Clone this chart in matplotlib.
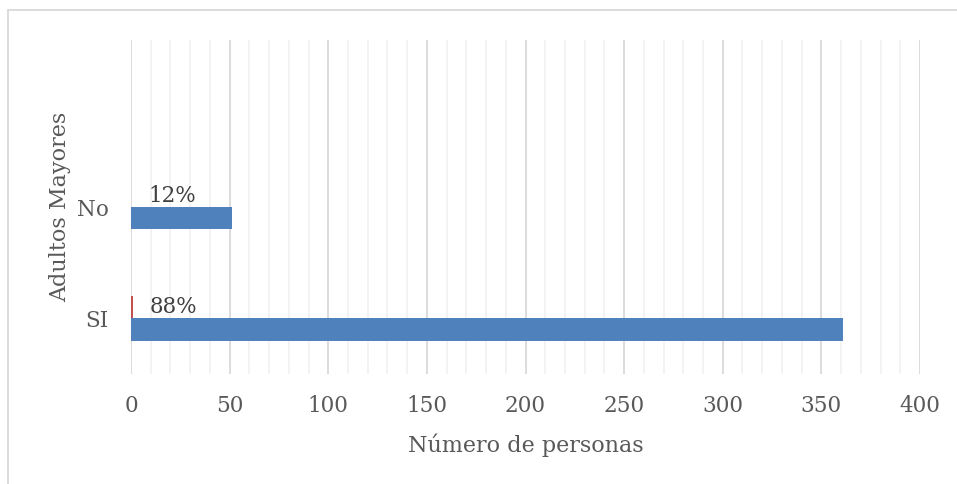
import matplotlib
matplotlib.use("Agg")
import matplotlib.pyplot as plt
from matplotlib.lines import Line2D
from matplotlib.ticker import MultipleLocator

# datos
categorias = ["SI", "No", ""]
personas = [361, 51, 0]
porcentajes = [0.88, 0.12, 0]
etiquetas = ["88%", "12%", ""]

azul = "#4F81BD"
rojo = "#C0504D"
gris = "#595959"

plt.rcParams["font.family"] = ["DejaVu Serif"]

fig = plt.figure(figsize=(9.57, 4.84), dpi=100)
ax = fig.add_axes([131 / 957, 1 - 374 / 484, (920 - 131) / 957, (374 - 40) / 484])

pos = range(len(categorias))
alto = 0.2
# serie de porcentajes (casi invisible) y serie de personas
ax.barh([p + alto / 2 for p in pos], porcentajes, height=alto, color=rojo, zorder=3)
ax.barh([p - alto / 2 for p in pos], personas, height=alto, color=azul, zorder=3)

for p, v, t in zip(pos, porcentajes, etiquetas):
    if t:
        ax.annotate(t, (v, p + alto / 2), xytext=(12.5, 0), textcoords="offset points",
                    va="center", ha="left", fontsize=15.5, color="#404040")

ax.set_xlim(0, 400)
ax.set_ylim(-0.5, 2.5)
ax.xaxis.set_major_locator(MultipleLocator(50))
ax.xaxis.set_minor_locator(MultipleLocator(10))
ax.grid(which="major", axis="x", color="#D9D9D9", linewidth=1.3, zorder=0)
ax.grid(which="minor", axis="x", color="#F2F2F2", linewidth=1.3, zorder=0)
ax.set_axisbelow(True)
for s in ax.spines.values():
    s.set_visible(False)

ax.set_yticks(list(pos))
ax.set_yticklabels(categorias)
ax.tick_params(axis="both", which="both", length=0, labelsize=15.5, labelcolor=gris)
ax.tick_params(axis="y", pad=16)
ax.tick_params(axis="x", pad=15)

ax.set_xlabel("Número de personas", fontsize=16, color=gris, labelpad=12)
ax.set_ylabel("Adultos Mayores", fontsize=16, color=gris, labelpad=4)

# borde del grafico
fig.add_artist(Line2D([8 / 957, 8 / 957], [0, 1 - 10 / 484], transform=fig.transFigure, color="#D9D9D9", lw=1.3))
fig.add_artist(Line2D([8 / 957, 1], [1 - 10 / 484, 1 - 10 / 484], transform=fig.transFigure, color="#D9D9D9", lw=1.3))

fig.savefig("out.png", dpi=100)
